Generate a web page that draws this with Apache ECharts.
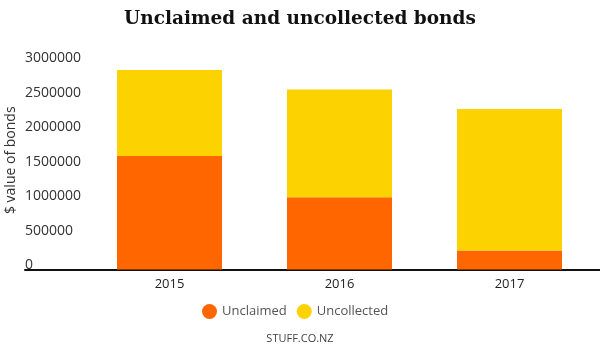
<!DOCTYPE html>
<html>
<head>
<meta charset="utf-8">
<script src="https://cdn.jsdelivr.net/npm/echarts@6/dist/echarts.min.js"></script>
<style>
  html, body { margin: 0; padding: 0; background: #fff; }
  #chart { width: 600px; height: 346px; }
</style>
</head>
<body>
<div id="chart"></div>
<script>
// Bond values by year, in dollars
const years = ['2015', '2016', '2017'];
const unclaimed = [1650000, 1050000, 277000];
const uncollected = [1250000, 1565000, 2055000];
const yTicks = { min: 0, max: 3000000, interval: 500000 };

const ORANGE = '#ff6600';
const YELLOW = '#fcd200';
const SANS = '"Open Sans", "Noto Sans", sans-serif';

const chart = echarts.init(document.getElementById('chart'), null, { renderer: 'canvas' });

chart.setOption({
  animation: false,
  backgroundColor: '#fff',
  title: {
    text: 'Unclaimed and uncollected bonds',
    left: 'center',
    top: 5,
    textStyle: {
      fontFamily: '"DejaVu Serif", serif',
      fontWeight: 'bold',
      fontSize: 18.5,
      color: '#111'
    }
  },
  legend: {
    left: 197,
    top: 299,
    icon: 'circle',
    itemWidth: 15,
    itemHeight: 15,
    itemGap: 10,
    textStyle: { fontFamily: SANS, fontSize: 13, color: '#555' },
    data: ['Unclaimed', 'Uncollected']
  },
  graphic: [{
    type: 'text',
    left: 'center',
    top: 333,
    style: { text: 'STUFF.CO.NZ', font: '11px ' + SANS, fill: '#444' }
  }],
  grid: [
    { left: 84.5, right: 5.5, top: 63, bottom: 76.5, outerBoundsMode: 'none', containLabel: false },
    // full-width baseline under the plot
    { left: 25, right: 0, top: 63, bottom: 76.5, outerBoundsMode: 'none', containLabel: false }
  ],
  xAxis: [
    {
      type: 'category',
      gridIndex: 0,
      data: years,
      axisLine: { show: false },
      axisTick: { show: false },
      axisLabel: { fontFamily: SANS, fontSize: 13, color: '#222', margin: 8 }
    },
    {
      type: 'value',
      gridIndex: 1,
      min: 0, max: 1,
      axisLine: { show: true, lineStyle: { color: '#111', width: 2 } },
      axisTick: { show: false },
      axisLabel: { show: false },
      splitLine: { show: false }
    }
  ],
  yAxis: [
    {
      type: 'value',
      gridIndex: 0,
      min: yTicks.min,
      max: yTicks.max,
      interval: yTicks.interval,
      name: '$ value of bonds',
      nameLocation: 'middle',
      nameRotate: 90,
      nameGap: 66,
      nameMoveOverlap: false,
      nameTextStyle: { fontFamily: SANS, fontSize: 14, color: '#333', padding: [0, 0, 0, 12] },
      axisLine: { show: false },
      axisTick: { show: false },
      splitLine: { show: false },
      axisLabel: {
        align: 'left',
        verticalAlign: 'bottom',
        lineHeight: 9,
        margin: 59.5,
        fontFamily: SANS,
        fontSize: 14,
        color: '#333',
        formatter: (v) => String(v)
      }
    },
    { type: 'value', gridIndex: 1, show: false }
  ],
  series: [
    {
      name: 'Unclaimed',
      type: 'bar',
      stack: 'bonds',
      barWidth: 105,
      itemStyle: { color: ORANGE },
      data: unclaimed
    },
    {
      name: 'Uncollected',
      type: 'bar',
      stack: 'bonds',
      barWidth: 105,
      itemStyle: { color: YELLOW },
      data: uncollected
    }
  ]
});
</script>
</body>
</html>
